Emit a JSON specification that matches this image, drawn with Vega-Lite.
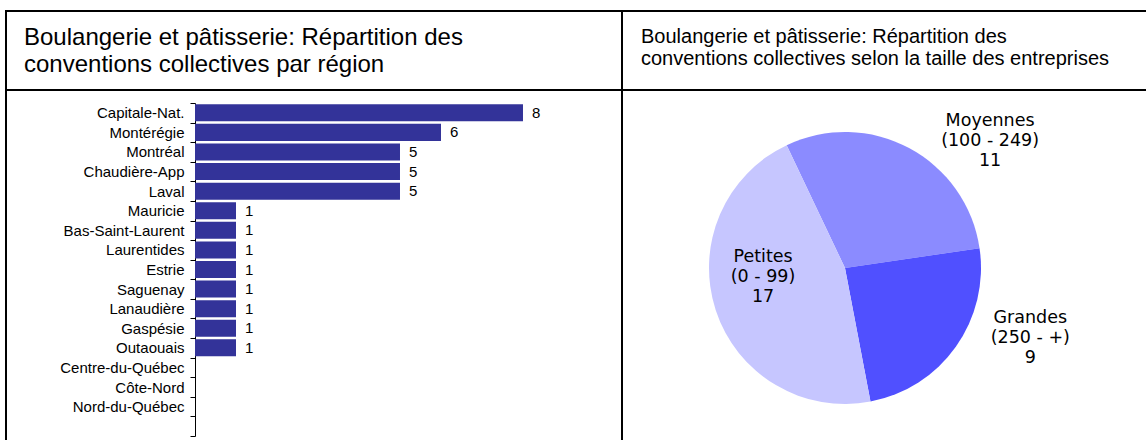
{
  "$schema": "https://vega.github.io/schema/vega-lite/v6.json",
  "padding": {"left": 5, "top": 10, "right": 0, "bottom": 0},
  "background": "white",
  "columns": 2,
  "spacing": 0,
  "bounds": "flush",
  "concat": [
    {
      "width": 616,
      "height": 79,
      "data": {"values": [{"titre": "Boulangerie et pâtisserie: Répartition des\nconventions collectives par région"}]},
      "mark": {"type": "text", "align": "left", "baseline": "top", "dx": 18, "dy": 14.5, "lineBreak": "\n", "font": "Liberation Sans", "fontSize": 24, "lineHeight": 27, "color": "black"},
      "encoding": {
        "text": {"field": "titre", "type": "nominal"},
        "x": {"value": 0},
        "y": {"value": 0}
      }
    },
    {
      "width": 525,
      "height": 79,
      "data": {"values": [{"titre": "Boulangerie et pâtisserie: Répartition des\nconventions collectives selon la taille des entreprises"}]},
      "mark": {"type": "text", "align": "left", "baseline": "top", "dx": 19, "dy": 16, "lineBreak": "\n", "font": "Liberation Sans", "fontSize": 20, "lineHeight": 22, "color": "black"},
      "encoding": {
        "text": {"field": "titre", "type": "nominal"},
        "x": {"value": 0},
        "y": {"value": 0}
      }
    },
    {
      "width": 616,
      "height": 358,
      "data": {
        "values": [
          {"region": "Capitale-Nat.", "n": 8},
          {"region": "Montérégie", "n": 6},
          {"region": "Montréal", "n": 5},
          {"region": "Chaudière-App", "n": 5},
          {"region": "Laval", "n": 5},
          {"region": "Mauricie", "n": 1},
          {"region": "Bas-Saint-Laurent", "n": 1},
          {"region": "Laurentides", "n": 1},
          {"region": "Estrie", "n": 1},
          {"region": "Saguenay", "n": 1},
          {"region": "Lanaudière", "n": 1},
          {"region": "Gaspésie", "n": 1},
          {"region": "Outaouais", "n": 1},
          {"region": "Centre-du-Québec", "n": 0},
          {"region": "Côte-Nord", "n": 0},
          {"region": "Nord-du-Québec", "n": 0}
        ]
      },
      "encoding": {
        "y": {
          "field": "region",
          "type": "nominal",
          "sort": null,
          "scale": {
            "domain": ["Capitale-Nat.", "Montérégie", "Montréal", "Chaudière-App", "Laval", "Mauricie", "Bas-Saint-Laurent", "Laurentides", "Estrie", "Saguenay", "Lanaudière", "Gaspésie", "Outaouais", "Centre-du-Québec", "Côte-Nord", "Nord-du-Québec", " "],
            "range": [13, 346],
            "paddingInner": 0,
            "paddingOuter": 0
          },
          "axis": {
            "orient": "left",
            "offset": -189,
            "title": null,
            "tickBand": "extent",
            "domainColor": "black",
            "domainWidth": 1,
            "tickColor": "black",
            "tickWidth": 1,
            "tickSize": 5,
            "labelFont": "Liberation Sans",
            "labelFontSize": 15,
            "labelColor": "black",
            "labelPadding": 6,
            "labelLimit": 0
          }
        },
        "x": {
          "field": "n",
          "type": "quantitative",
          "scale": {"domain": [-4.61, 10.415], "nice": false},
          "axis": null
        }
      },
      "layer": [
        {
          "mark": {"type": "bar", "color": "#333399", "height": {"band": 0.87}}
        },
        {
          "transform": [{"filter": "datum.n > 0"}],
          "mark": {"type": "text", "align": "left", "baseline": "middle", "dx": 9, "font": "Liberation Sans", "fontSize": 15, "color": "black"},
          "encoding": {"text": {"field": "n", "type": "quantitative"}}
        }
      ]
    },
    {
      "width": 446,
      "height": 356,
      "view": {"stroke": null},
      "data": {
        "values": [
          {"taille": "Moyennes", "tranche": "(100 - 249)", "n": 11, "ordre": 1},
          {"taille": "Grandes", "tranche": "(250 - +)", "n": 9, "ordre": 2},
          {"taille": "Petites", "tranche": "(0 - 99)", "n": 17, "ordre": 3}
        ]
      },
      "transform": [
        {"calculate": "datum.taille + '\\n' + datum.tranche + '\\n' + datum.n", "as": "etiquette"}
      ],
      "encoding": {
        "theta": {"field": "n", "type": "quantitative", "stack": true, "scale": {"range": [-0.4433, 5.8399]}},
        "order": {"field": "ordre", "type": "quantitative"}
      },
      "layer": [
        {
          "mark": {"type": "arc", "outerRadius": 136},
          "encoding": {
            "color": {
              "field": "taille",
              "type": "nominal",
              "scale": {"domain": ["Moyennes", "Grandes", "Petites"], "range": ["#8B8BFF", "#5050FF", "#C6C6FF"]},
              "legend": null
            }
          }
        },
        {
          "mark": {"type": "text", "radius": 193, "thetaOffset": 0.36, "dy": -20, "align": "center", "baseline": "middle", "lineBreak": "\n", "font": "DejaVu Sans", "fontSize": 17.5, "lineHeight": 20, "color": "black"},
          "encoding": {
            "detail": {"field": "taille", "type": "nominal"},
            "text": {"condition": {"test": "datum.taille === 'Moyennes'", "field": "etiquette", "type": "nominal"}, "value": ""}
          }
        },
        {
          "mark": {"type": "text", "radius": 198, "thetaOffset": -0.258, "dy": -20, "align": "center", "baseline": "middle", "lineBreak": "\n", "font": "DejaVu Sans", "fontSize": 17.5, "lineHeight": 20, "color": "black"},
          "encoding": {
            "detail": {"field": "taille", "type": "nominal"},
            "text": {"condition": {"test": "datum.taille === 'Grandes'", "field": "etiquette", "type": "nominal"}, "value": ""}
          }
        },
        {
          "mark": {"type": "text", "radius": 82.5, "thetaOffset": 0.201, "dy": -20, "align": "center", "baseline": "middle", "lineBreak": "\n", "font": "DejaVu Sans", "fontSize": 17.5, "lineHeight": 20, "color": "black"},
          "encoding": {
            "detail": {"field": "taille", "type": "nominal"},
            "text": {"condition": {"test": "datum.taille === 'Petites'", "field": "etiquette", "type": "nominal"}, "value": ""}
          }
        }
      ]
    }
  ],
  "config": {
    "view": {"stroke": "black", "strokeWidth": 2},
    "font": "Liberation Sans"
  }
}
